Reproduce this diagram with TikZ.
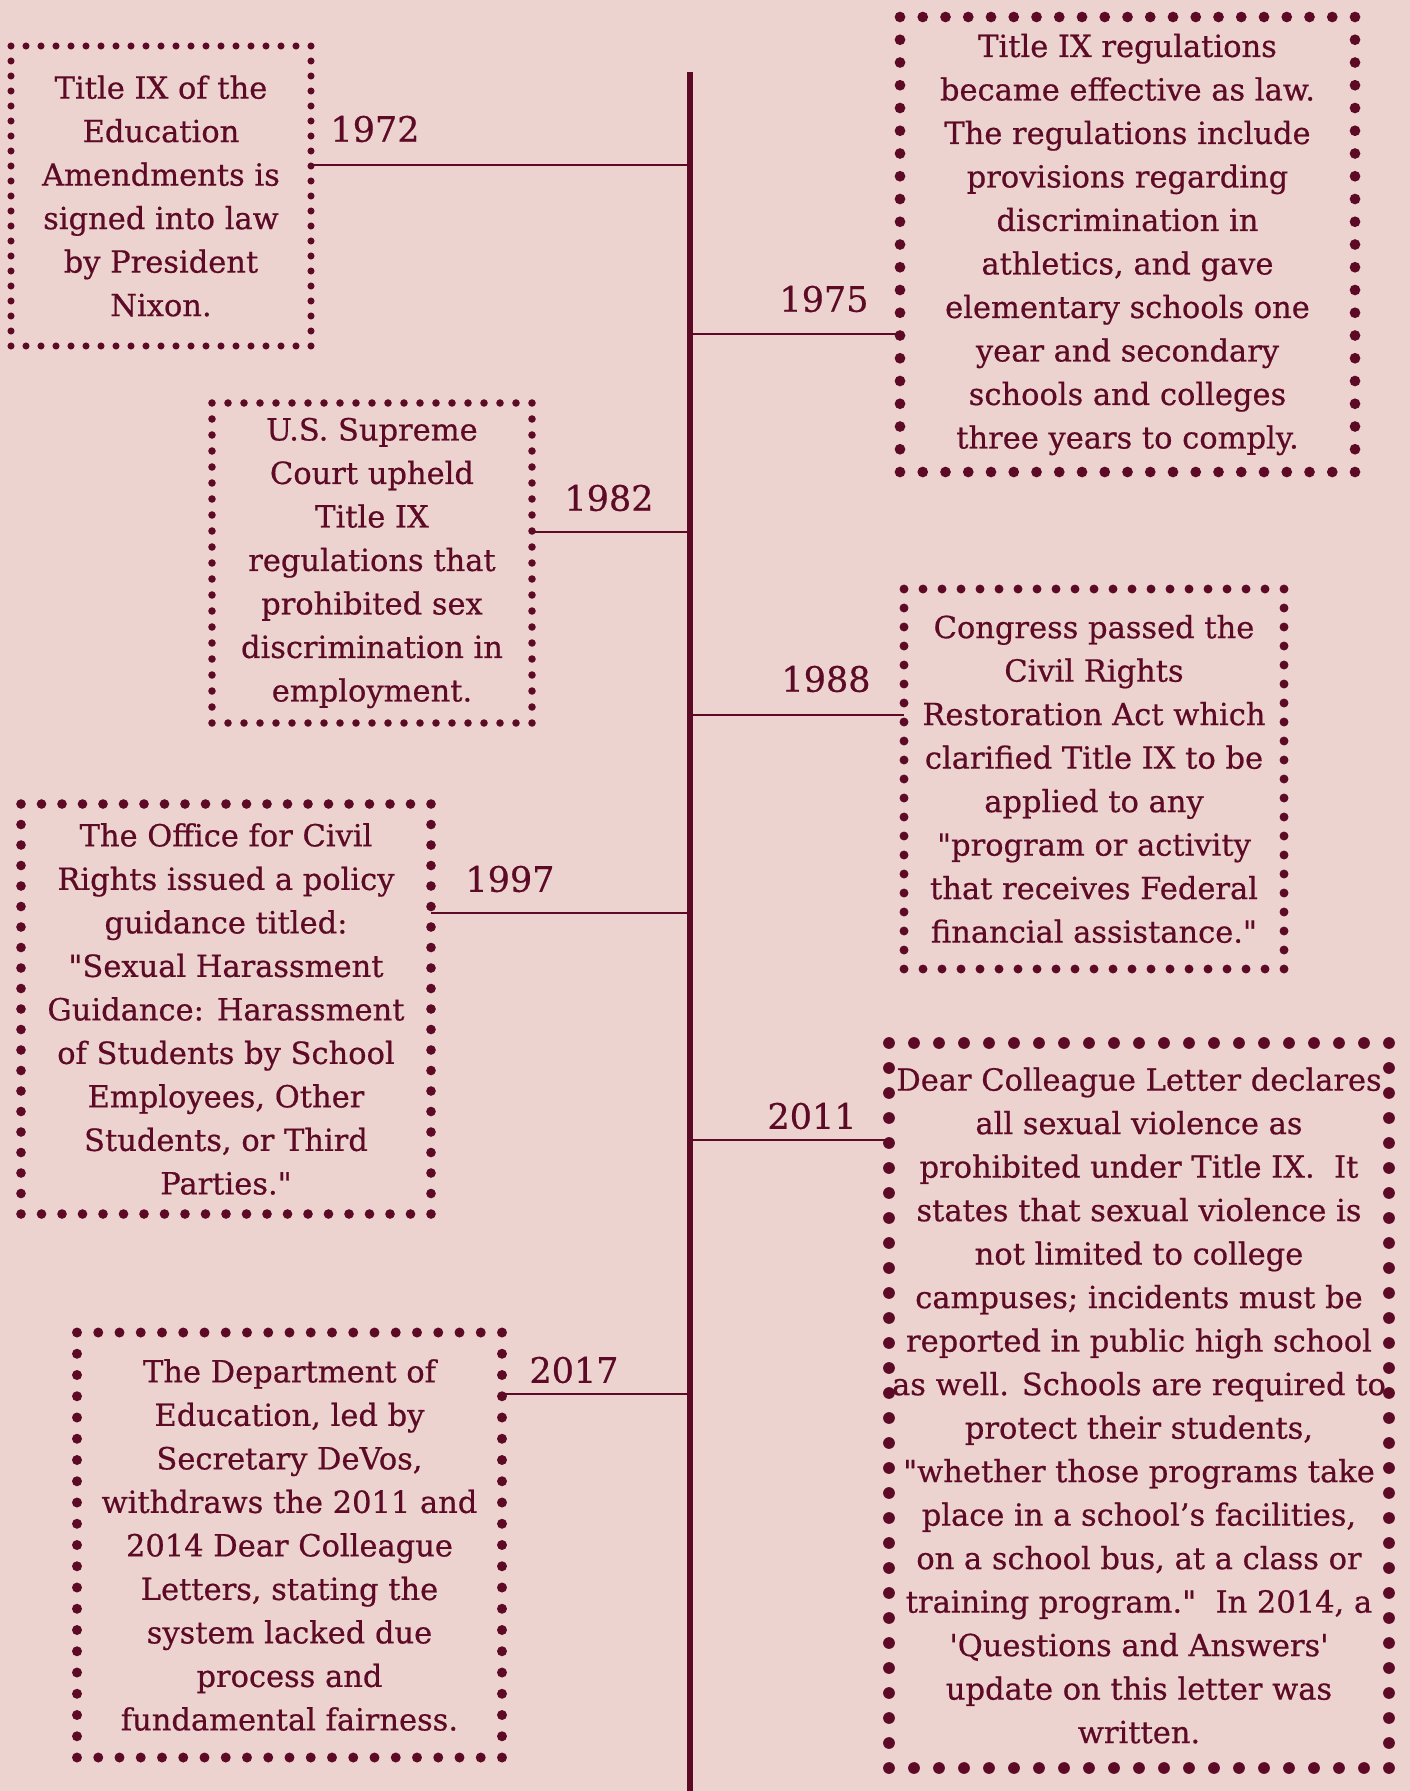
\documentclass[tikz,border=0pt]{standalone}
\usepackage{fontspec}
\newfontfamily\bodyfont{DejaVu Serif}[FakeBold=0.6]
\definecolor{bg}{RGB}{237,211,207}
\definecolor{ink}{RGB}{92,10,38}
\tikzset{
  evbox/.style={rectangle, inner sep=0pt, outer sep=0pt, align=center,
    text=ink, font=\bodyfont\fontsize{30.5}{43.5}\selectfont,
    draw=ink, line cap=round},
  dots/.style 2 args={minimum width=#1, minimum height=#2},
  dotpat/.style={line width=0.47*#1, dash pattern=on 0pt off #1},
  yearlbl/.style={text=ink, font=\bodyfont\fontsize{35}{38}\selectfont, inner sep=0pt},
  conn/.style={draw=ink, line width=2.6pt},
  tline/.style={draw=ink, line width=6pt}
}
\begin{document}
\begin{tikzpicture}[x=1pt,y=-1pt]
\fill[bg] (0,0) rectangle (1410,1791);
\useasboundingbox (0,0) rectangle (1410,1791);
% timeline
\coordinate (ttop) at (690,72);
\coordinate (tbot) at (690,1791);
\draw[tline] (ttop) -- (tbot);
% boxes
\node[evbox, dots={300pt}{300pt}, dotpat=15pt] (b1972) at (161,196)
 {Title IX of the\\Education\\Amendments is\\signed into law\\by President\\Nixon.};
\node[evbox, dots={455pt}{455pt}, dotpat=22.75pt] (b1975) at (1127.5,244.5)
 {Title IX regulations\\became effective as law.\\The regulations include\\provisions regarding\\discrimination in\\athletics, and gave\\elementary schools one\\year and secondary\\schools and colleges\\three years to comply.};
\node[evbox, dots={320pt}{320pt}, dotpat=16pt] (b1982) at (372,563)
 {U.S. Supreme\\Court upheld\\Title IX\\regulations that\\prohibited sex\\discrimination in\\employment.};
\node[evbox, dots={380pt}{380pt}, dotpat=19pt] (b1988) at (1094,779)
 {Congress passed the\\Civil Rights\\Restoration Act which\\clarified Title IX to be\\applied to any\\"program or activity\\that receives Federal\\financial assistance."};
\node[evbox, dots={410pt}{410pt}, dotpat=20.5pt] (b1997) at (226,1009)
 {The Office for Civil\\Rights issued a policy\\guidance titled:\\"Sexual Harassment\\Guidance: Harassment\\of Students by School\\Employees, Other\\Students, or Third\\Parties."};
\node[evbox, dots={500pt}{725pt}, dotpat=25pt] (b2011) at (1139,1405.5)
 {Dear Colleague Letter declares\\all sexual violence as\\prohibited under Title IX.\ \ It\\states that sexual violence is\\not limited to college\\campuses; incidents must be\\reported in public high school\\as well. Schools are required to\\protect their students,\\"whether those programs take\\place in a school’s facilities,\\on a school bus, at a class or\\training program."\ \ In 2014, a\\'Questions and Answers'\\update on this letter was\\written.};
\node[evbox, dots={425pt}{425pt}, dotpat=21.25pt] (b2017) at (289.5,1545)
 {The Department of\\Education, led by\\Secretary DeVos,\\withdraws the 2011 and\\2014 Dear Colleague\\Letters, stating the\\system lacked due\\process and\\fundamental fairness.};
% timeline anchor points
\coordinate (t1972) at (690,165);
\coordinate (t1975) at (690,334);
\coordinate (t1982) at (690,532);
\coordinate (t1988) at (690,715);
\coordinate (t1997) at (690,913);
\coordinate (t2011) at (690,1140);
\coordinate (t2017) at (690,1394);
% connectors
\draw[conn] (t1972) -- (t1972 -| b1972.east);
\draw[conn] (t1975) -- (t1975 -| b1975.west);
\draw[conn] (t1982) -- (t1982 -| b1982.east);
\draw[conn] (t1988) -- (t1988 -| b1988.west);
\draw[conn] (t1997) -- (t1997 -| b1997.east);
\draw[conn] (t2011) -- (t2011 -| b2011.west);
\draw[conn] (t2017) -- (t2017 -| b2017.east);
% year labels
\node[yearlbl] (y1972) at (375,129) {1972};
\node[yearlbl] (y1975) at (824,299) {1975};
\node[yearlbl] (y1982) at (609,498) {1982};
\node[yearlbl] (y1988) at (826,679) {1988};
\node[yearlbl] (y1997) at (510,879) {1997};
\node[yearlbl] (y2011) at (812,1116) {2011};
\node[yearlbl] (y2017) at (574,1370) {2017};
\end{tikzpicture}
\end{document}
